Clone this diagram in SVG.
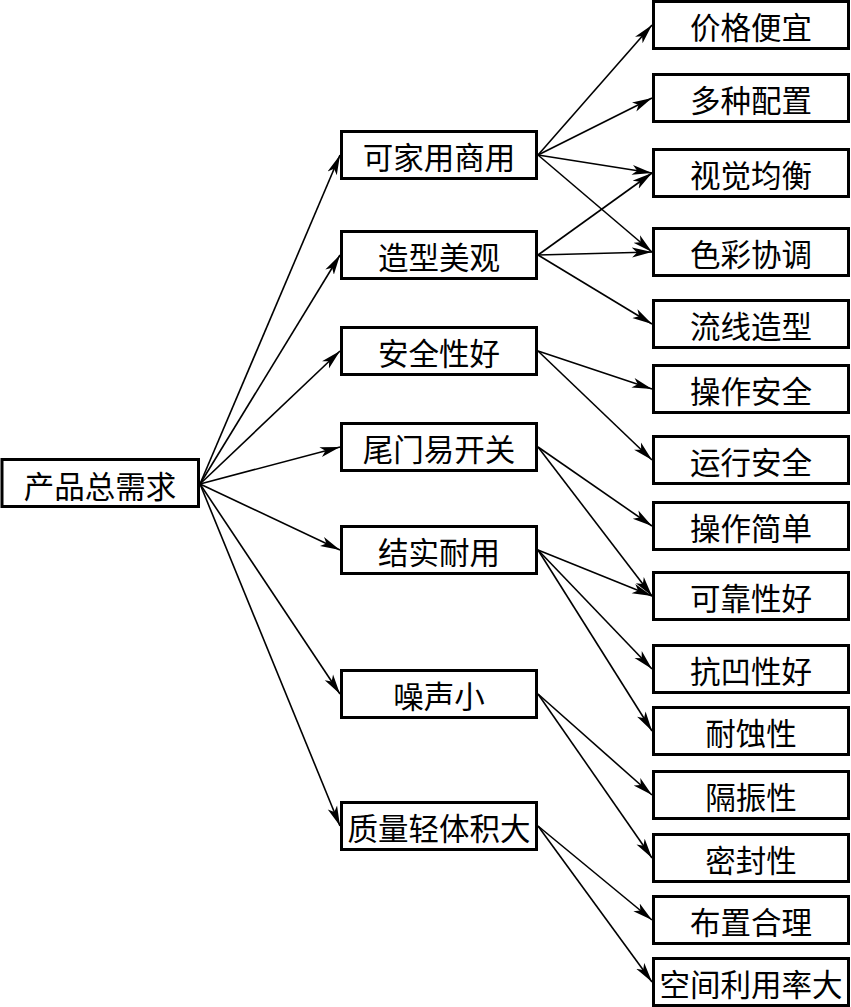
<svg xmlns="http://www.w3.org/2000/svg" width="851" height="1007" viewBox="0 0 851 1007">
<style>
.box{fill:#fff;stroke:#000;stroke-width:3}
.t{font-family:"Noto Sans CJK SC","Liberation Serif",sans-serif;font-size:30.5px;fill:#000;text-anchor:middle;dominant-baseline:central}
.c line{stroke:#000;stroke-width:1.6;marker-end:url(#ah)}
</style>
<defs>
<marker id="ah" markerUnits="userSpaceOnUse" markerWidth="22" markerHeight="12" viewBox="0 -6 22 12" refX="20" refY="0" orient="auto">
<path d="M0,-5 L20,0 L0,5 L5,0 z" fill="#000"/>
</marker>
</defs>
<rect width="851" height="1007" fill="#fff"/>
<g class="c" id="connectors">
<line x1="200" y1="484" x2="340" y2="155"/>
<line x1="200" y1="484" x2="340" y2="255"/>
<line x1="200" y1="484" x2="340" y2="351"/>
<line x1="200" y1="484" x2="340" y2="447"/>
<line x1="200" y1="484" x2="340" y2="550"/>
<line x1="200" y1="484" x2="340" y2="694"/>
<line x1="200" y1="484" x2="340" y2="826"/>
<line x1="538" y1="155" x2="652" y2="25"/>
<line x1="538" y1="155" x2="652" y2="98"/>
<line x1="538" y1="155" x2="652" y2="173"/>
<line x1="538" y1="155" x2="652" y2="252"/>
<line x1="538" y1="255" x2="652" y2="173"/>
<line x1="538" y1="255" x2="652" y2="252"/>
<line x1="538" y1="255" x2="652" y2="324"/>
<line x1="538" y1="351" x2="652" y2="389"/>
<line x1="538" y1="351" x2="652" y2="460"/>
<line x1="538" y1="447" x2="652" y2="526"/>
<line x1="538" y1="447" x2="652" y2="596"/>
<line x1="538" y1="550" x2="652" y2="596"/>
<line x1="538" y1="550" x2="652" y2="669"/>
<line x1="538" y1="550" x2="652" y2="731"/>
<line x1="538" y1="694" x2="652" y2="795"/>
<line x1="538" y1="694" x2="652" y2="858"/>
<line x1="538" y1="826" x2="652" y2="920"/>
<line x1="538" y1="826" x2="652" y2="982"/>
</g>
<g id="root"><rect class="box" x="2" y="459.5" width="196.5" height="47"/><text class="t" x="100" y="485">产品总需求</text></g>
<g id="m1"><rect class="box" x="341.5" y="131.5" width="195" height="47"/><text class="t" x="439" y="156">可家用商用</text></g>
<g id="m2"><rect class="box" x="341.5" y="231.5" width="195" height="47"/><text class="t" x="439" y="256">造型美观</text></g>
<g id="m3"><rect class="box" x="341.5" y="327.5" width="195" height="47"/><text class="t" x="439" y="352">安全性好</text></g>
<g id="m4"><rect class="box" x="341.5" y="423.5" width="195" height="47"/><text class="t" x="439" y="448">尾门易开关</text></g>
<g id="m5"><rect class="box" x="341.5" y="526.5" width="195" height="47"/><text class="t" x="439" y="551">结实耐用</text></g>
<g id="m6"><rect class="box" x="341.5" y="670.5" width="195" height="47"/><text class="t" x="439" y="695">噪声小</text></g>
<g id="m7"><rect class="box" x="341.5" y="802.5" width="195" height="47"/><text class="t" x="439" y="827">质量轻体积大</text></g>
<g id="r1"><rect class="box" x="653.5" y="1.5" width="195" height="47"/><text class="t" x="751" y="26">价格便宜</text></g>
<g id="r2"><rect class="box" x="653.5" y="74.5" width="195" height="47"/><text class="t" x="751" y="99">多种配置</text></g>
<g id="r3"><rect class="box" x="653.5" y="149.5" width="195" height="47"/><text class="t" x="751" y="174">视觉均衡</text></g>
<g id="r4"><rect class="box" x="653.5" y="228.5" width="195" height="47"/><text class="t" x="751" y="253">色彩协调</text></g>
<g id="r5"><rect class="box" x="653.5" y="300.5" width="195" height="47"/><text class="t" x="751" y="325">流线造型</text></g>
<g id="r6"><rect class="box" x="653.5" y="365.5" width="195" height="47"/><text class="t" x="751" y="390">操作安全</text></g>
<g id="r7"><rect class="box" x="653.5" y="436.5" width="195" height="47"/><text class="t" x="751" y="461">运行安全</text></g>
<g id="r8"><rect class="box" x="653.5" y="502.5" width="195" height="47"/><text class="t" x="751" y="527">操作简单</text></g>
<g id="r9"><rect class="box" x="653.5" y="572.5" width="195" height="47"/><text class="t" x="751" y="597">可靠性好</text></g>
<g id="r10"><rect class="box" x="653.5" y="645.5" width="195" height="47"/><text class="t" x="751" y="670">抗凹性好</text></g>
<g id="r11"><rect class="box" x="653.5" y="707.5" width="195" height="47"/><text class="t" x="751" y="732">耐蚀性</text></g>
<g id="r12"><rect class="box" x="653.5" y="771.5" width="195" height="47"/><text class="t" x="751" y="796">隔振性</text></g>
<g id="r13"><rect class="box" x="653.5" y="834.5" width="195" height="47"/><text class="t" x="751" y="859">密封性</text></g>
<g id="r14"><rect class="box" x="653.5" y="896.5" width="195" height="47"/><text class="t" x="751" y="921">布置合理</text></g>
<g id="r15"><rect class="box" x="653.5" y="958.5" width="195" height="47"/><text class="t" x="751" y="983">空间利用率大</text></g>
</svg>
